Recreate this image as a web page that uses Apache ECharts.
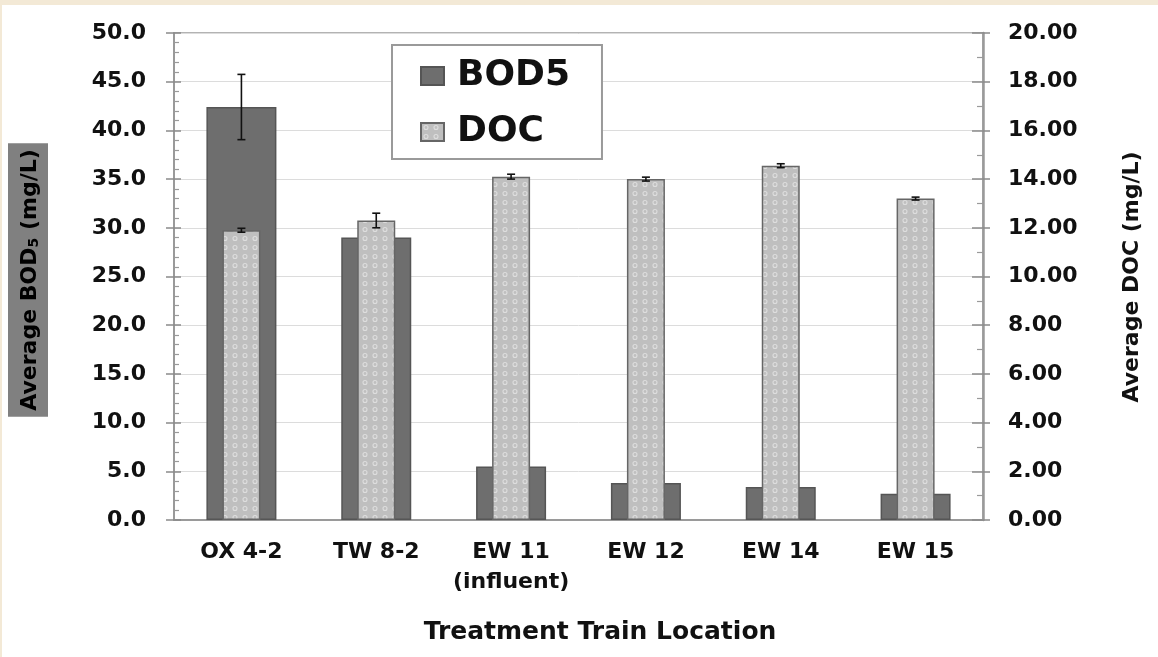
<!DOCTYPE html>
<html>
<head>
<meta charset="utf-8">
<script src="https://cdn.jsdelivr.net/npm/echarts@6/dist/echarts.min.js"></script>
<style>
  html, body { margin: 0; padding: 0; background: #ffffff; }
  #chart { width: 1158px; height: 657px; }
</style>
</head>
<body>
<div id="chart"></div>
<script>
// Sampling locations along the treatment train
const categories = ['OX 4-2', 'TW 8-2', 'EW 11\n(influent)', 'EW 12', 'EW 14', 'EW 15'];

// Average BOD5 (mg/L) and its error (±)
const bod5 = [42.4, 29.0, 5.5, 3.8, 3.4, 2.7];
const bod5Err = [3.35, 0.6, 0.3, 0.2, 0.2, 0.2];

// Average DOC (mg/L) and its error (±)
const doc = [11.9, 12.3, 14.1, 14.0, 14.55, 13.2];
const docErr = [0.08, 0.3, 0.1, 0.08, 0.08, 0.06];

const FONT = 'DejaVu Sans';
const AXIS_GREY = '#9a9a9a';

// Dotted fill used for the DOC bars
function dotPattern() {
  const c = document.createElement('canvas');
  c.width = 10; c.height = 9;
  const g = c.getContext('2d');
  g.fillStyle = '#bfbfbf';
  g.fillRect(0, 0, 10, 9);
  g.strokeStyle = '#dedede';
  g.lineWidth = 1.1;
  g.beginPath();
  g.arc(5, 4.5, 2, 0, Math.PI * 2);
  g.stroke();
  return c;
}

// Whisker with caps: data items are [categoryIndex, mean, error]
function errorBar(params, api) {
  const i = api.value(0);
  const mean = api.value(1);
  const err = api.value(2);
  const hi = api.coord([i, mean + err]);
  const lo = api.coord([i, mean - err]);
  const cap = 4;
  const style = { stroke: '#111', lineWidth: 1.6 };
  return {
    type: 'group',
    children: [
      { type: 'line', shape: { x1: hi[0], y1: hi[1], x2: lo[0], y2: lo[1] }, style },
      { type: 'line', shape: { x1: hi[0] - cap, y1: hi[1], x2: hi[0] + cap, y2: hi[1] }, style },
      { type: 'line', shape: { x1: lo[0] - cap, y1: lo[1], x2: lo[0] + cap, y2: lo[1] }, style }
    ]
  };
}

const bodErrData = bod5.map((v, i) => [i, v, bod5Err[i]]);
const docErrData = doc.map((v, i) => [i, v, docErr[i]]);

const tickLabel = {
  fontFamily: FONT, fontWeight: 'bold', fontSize: 22, color: '#111'
};

const chart = echarts.init(document.getElementById('chart'), null, { renderer: 'canvas' });

chart.setOption({
  backgroundColor: '#ffffff',
  animation: false,
  grid: {
    left: 174, right: 175, top: 33, bottom: 137,
    show: true, borderColor: AXIS_GREY, borderWidth: 1.5, backgroundColor: '#ffffff'
  },
  legend: {
    data: ['BOD5', 'DOC'],
    orient: 'vertical',
    left: 392, top: 45,
    padding: [13, 32, 9, 28],
    itemWidth: 23, itemHeight: 18, itemGap: 20,
    icon: 'rect',
    selectedMode: false,
    backgroundColor: '#ffffff',
    borderColor: '#9a9a9a', borderWidth: 2,
    textStyle: { fontFamily: FONT, fontWeight: 'bold', fontSize: 36, color: '#111', padding: [0, 0, 0, 8] }
  },
  xAxis: [
    {
      type: 'category', data: categories, gridIndex: 0,
      axisLine: { lineStyle: { color: AXIS_GREY, width: 2 } },
      axisTick: { show: false },
      axisLabel: Object.assign({ interval: 0, margin: 17, lineHeight: 30 }, tickLabel),
      splitLine: { show: false }
    },
    { type: 'category', data: categories, gridIndex: 0, show: false }
  ],
  yAxis: [
    {
      type: 'value', min: 0, max: 50, interval: 5, position: 'left',
      axisLine: { show: true, lineStyle: { color: AXIS_GREY, width: 2 } },
      axisTick: { show: true, inside: true, length: 7, lineStyle: { color: '#8a8a8a', width: 1.5 } },
      minorTick: { show: true, splitNumber: 5, length: 5, lineStyle: { color: '#9a9a9a', width: 1.2 } },
      axisLabel: Object.assign({ margin: 28, formatter: v => v.toFixed(1) }, tickLabel),
      splitLine: { show: true, lineStyle: { color: '#dcdcdc', width: 1 } }
    },
    {
      type: 'value', min: 0, max: 20, interval: 2, position: 'right',
      axisLine: { show: true, lineStyle: { color: AXIS_GREY, width: 2.5 } },
      axisTick: { show: true, inside: true, length: 11, lineStyle: { color: '#8a8a8a', width: 1.5 } },
      minorTick: { show: true, splitNumber: 2, length: 6, lineStyle: { color: '#9a9a9a', width: 1.2 } },
      axisLabel: Object.assign({ margin: 25, formatter: v => v.toFixed(2) }, tickLabel),
      splitLine: { show: false }
    },
    {
      // outer halves of the left major ticks
      type: 'value', min: 0, max: 50, interval: 5, position: 'left',
      axisLine: { show: false }, axisLabel: { show: false }, splitLine: { show: false },
      axisTick: { show: true, inside: false, length: 8, lineStyle: { color: '#8a8a8a', width: 1.5 } }
    },
    {
      // outer halves of the right major ticks
      type: 'value', min: 0, max: 20, interval: 2, position: 'right',
      axisLine: { show: false }, axisLabel: { show: false }, splitLine: { show: false },
      axisTick: { show: true, inside: false, length: 7, lineStyle: { color: '#8a8a8a', width: 1.5 } }
    }
  ],
  series: [
    {
      name: 'BOD5', type: 'bar', xAxisIndex: 0, yAxisIndex: 0,
      data: bod5, barWidth: 70, z: 2,
      itemStyle: { color: '#6e6e6e', borderColor: '#555555', borderWidth: 1.5 }
    },
    {
      type: 'custom', xAxisIndex: 0, yAxisIndex: 0, z: 3,
      data: bodErrData, renderItem: errorBar, silent: true
    },
    {
      name: 'DOC', type: 'bar', xAxisIndex: 1, yAxisIndex: 1,
      data: doc, barWidth: 38, z: 4,
      itemStyle: {
        color: { image: dotPattern(), repeat: 'repeat' },
        borderColor: '#666666', borderWidth: 1.5
      }
    },
    {
      type: 'custom', xAxisIndex: 1, yAxisIndex: 1, z: 5,
      data: docErrData, renderItem: errorBar, silent: true
    }
  ],
  graphic: [
    { type: 'rect', left: 0, top: 0, shape: { width: 1158, height: 5 }, style: { fill: '#f3e9d6' }, silent: true },
    { type: 'rect', left: 0, top: 0, shape: { width: 2, height: 657 }, style: { fill: '#f3e9d6' }, silent: true },
    {
      type: 'text', x: 28, y: 280, rotation: Math.PI / 2, silent: true,
      style: {
        text: '{t|Average BOD}{s|5}{t| (mg/L)}',
        align: 'center', verticalAlign: 'middle',
        backgroundColor: '#808080', padding: [7, 6, 7, 6],
        rich: {
          t: { fontFamily: FONT, fontWeight: 'bold', fontSize: 22, lineHeight: 26, color: '#111', verticalAlign: 'bottom' },
          s: { fontFamily: FONT, fontWeight: 'bold', fontSize: 14, lineHeight: 14, color: '#111', verticalAlign: 'bottom' }
        }
      }
    },
    {
      type: 'text', x: 1132, y: 277, rotation: Math.PI / 2, silent: true,
      style: {
        text: 'Average DOC (mg/L)', align: 'center', verticalAlign: 'middle',
        fontFamily: FONT, fontWeight: 'bold', fontSize: 22, fill: '#111'
      }
    },
    {
      type: 'text', x: 600, y: 632, silent: true,
      style: {
        text: 'Treatment Train Location', align: 'center', verticalAlign: 'middle',
        fontFamily: FONT, fontWeight: 'bold', fontSize: 25, fill: '#111'
      }
    }
  ]
});
</script>
</body>
</html>
